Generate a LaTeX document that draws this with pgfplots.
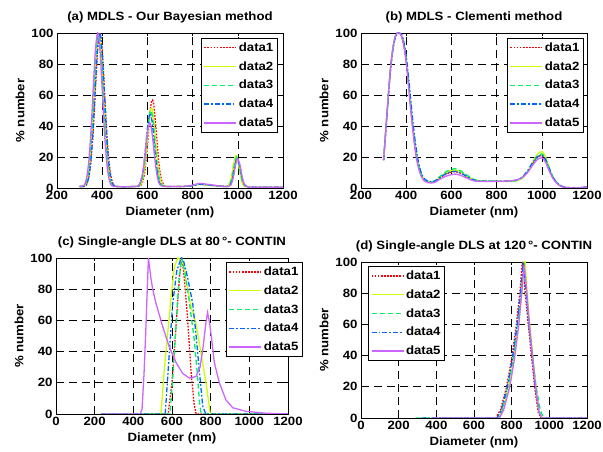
\documentclass[border=0pt]{standalone}
\usepackage{fontspec}
\setmainfont{Liberation Sans}[FakeStretch=1.1]
\usepackage{pgfplots}
\usepackage{pgfplotstable}
\pgfplotsset{compat=1.18}
\definecolor{cA}{RGB}{255,0,0}
\definecolor{cB}{RGB}{204,255,0}
\definecolor{cC}{RGB}{0,240,100}
\definecolor{cD}{RGB}{0,102,255}
\definecolor{cE}{RGB}{204,102,255}

\pgfplotstableread{
x    d1    d2    d3    d4    d5
300  1     1     1     1     1
320  1     1     1     1     1.7
330  2     3.5   3.7   2     5.9
340  6.5   10    11    6.6   16.3
350  17    25    27    17.8  36
360  36    49    52    38.5  63.5
370  63.5  77.5  80    66.4  89
380  89.3  97    98    91    100
390  100   97    96    100   89
400  89.3  77.5  75    87    63.5
410  63.5  49    46.5  60.7  36
420  36    25    23    33.7  16.3
430  17    10    9     15    5.9
440  6.5   3.5   3     5.5   1.7
450  2     1     1.2   1.6   1
460  1     1     1     1     1
500  0.8   0.8   0.8   0.8   0.8
550  1     1     1     1     1
560  1     1     1     1.2   1.5
570  1.5   2     3     4     4.3
580  4.5   6     7.5   9.9   10.5
590  12    15.5  19    22.8  22.6
600  27.5  31.6  35.4  38.4  36
610  46    47    48    47.7  42
615  53    51.3  50    47.3  40.4
620  56.6  51.4  48    43.5  36
625  56.2  48.2  43    37    29.7
630  51.6  41.6  35.4  29    22.6
640  34.6  24.6  19    14.3  10.5
650  17    10.7  7.5   5.2   3.6
660  7     4     2.7   1.4   1.5
670  2.5   1.3   1.2   1     1
680  1     1     1     1     1
700  1     1     1     1     1
760  1     1     1     1     1
800  1.5   1.5   1.5   1.5   1.8
830  2.5   2.3   2.4   2.5   3
860  2     2     2     2.1   2.5
900  1.5   1.5   1.5   1.5   1.7
940  1     1     1     1     1
950  1     1     1     1     1
960  1.5   2     1.5   1     1
970  4.5   6.1   4.5   3     2
980  10.7  14.5  11.3  8.3   6.8
990  17.8  20.8  18.8  16.2  14.7
995  19    20.5  20    18.6  17.8
1000 17.8  17.8  18.8  18.8  19
1010 10.7  9.2   11.3  13.1  14.7
1020 4.5   2.8   4.5   5.5   6.8
1030 1.5   1     1.5   2     2
1040 1     1     1     1     1
1060 0.5   0.5   0.5   0.5   0.5
1200 0.5   0.5   0.5   0.5   0.5
}\tabA

\pgfplotstableread{
x     d1    d2    d3    d4    d5
300   18    18    18    18    18
310   38    38    38    37    38
320   58    58    58    57    58
330   76    76    76    75    76
340   89    89    89    88    89
350   97    97    97    96    97
360   100   100   100   99.5  100
370   100   100   100   100   100
380   98    98    98.5  99    97.5
390   92    92    93    94    91
400   82    82    83    85    81
410   68    68    70    72    66
420   52    53    54    57    50
430   38    39    40    42    36
440   26    27    28    30    24
450   17    18    18.5  20    15.5
460   11    11.5  12    13    10
470   7     7.5   8     8.5   6.5
480   5     5.5   5.5   6     4.5
495   4     4.2   4.3   4.5   3.5
510   3.7   3.9   4     4     3.2
525   4     4.3   4.5   4.3   3.5
540   5.5   6     6.3   5.8   4.8
560   7.5   8.2   8.7   7.8   6.5
580   9.2   10.2  10.8  9.5   7.8
600   10.3  11.3  12    10.5  8.6
615   10.6  11.6  12.5  10.8  9
630   10.2  11.2  12    10.4  8.7
645   9.2   10    10.7  9.4   7.9
660   8     8.6   9.2   8.2   7
680   6.3   6.8   7.2   6.4   5.6
700   5.1   5.3   5.5   5.1   4.6
730   4.5   4.5   4.6   4.4   4.2
800   4.4   4.3   4.4   4.3   4.3
850   4.4   4.2   4.3   4.4   4.5
880   4.8   4.5   4.6   4.9   5
900   5.6   5.2   5.4   5.8   5.8
920   7.5   7.2   7.4   8     7.5
940   11    11.2  11.2  11.8  10.5
960   15.8  16.8  16.2  16.5  14.8
980   19.6  21.8  20.5  20.2  18.3
1000  21    23.5  22    21    19.5
1015  18.5  20.5  19.5  18.8  17
1030  13    14.5  14    13.5  12
1045  7.8   8.5   8.4   8.2   7.3
1060  4.3   4.5   4.6   4.6   4
1075  2     2     2.2   2.2   1.9
1090  0.9   0.9   1     1     0.8
1105  0.4   0.4   0.4   0.4   0.3
1150  0     0     0     0     0
1180  0.3   0.3   0.3   0.3   0.3
1200  0.8   0.8   0.8   0.8   0.8
}\tabB

\tikzset{
  sA/.style={draw=cA, color=cA, line width=1.3pt, dash pattern=on 1.7pt off 1.4pt},
  sB/.style={draw=cB, color=cB, line width=1.3pt, solid},
  sC/.style={draw=cC, color=cC, line width=1.3pt, dash pattern=on 5pt off 3pt},
  sD/.style={draw=cD, color=cD, line width=1.3pt, dash pattern=on 5pt off 2pt on 1.7pt off 2pt},
  sE/.style={draw=cE, color=cE, line width=1.3pt, solid},
}
\pgfplotsset{
  lA/.style={sA, legend image code/.code={\draw[sA] (0pt,0pt) -- (32pt,0pt);}},
  lB/.style={sB, legend image code/.code={\draw[sB] (0pt,0pt) -- (32pt,0pt);}},
  lC/.style={sC, legend image code/.code={\draw[sC] (0pt,0pt) -- (32pt,0pt);}},
  lD/.style={sD, legend image code/.code={\draw[sD] (0pt,0pt) -- (32pt,0pt);}},
  lE/.style={sE, legend image code/.code={\draw[sE] (0pt,0pt) -- (32pt,0pt);}},
  myax/.style={
    scale only axis,
    anchor=south west,
    ymin=0, ymax=100,
    ytick={0,20,40,60,80,100},
    xmax=1200,
    axis line style={black, line width=0.8pt},
    tick style={black, line width=0.6pt},
    major tick length=3pt,
    tick align=inside,
    xmajorgrids, ymajorgrids,
    major grid style={black, line width=0.6pt, dash pattern=on 8pt off 5pt},
    /pgf/number format/assume math mode=true,
    /pgf/number format/1000 sep={},
    xlabel={Diameter (nm)},
    ylabel={\% number},
    legend cell align=left,
    legend style={draw=black, line width=0.8pt, fill=white, inner sep=2.5pt,
      row sep=5pt, nodes={inner sep=1.8pt}},
    no markers,
  },
}

\begin{document}
\begin{tikzpicture}[font=\fontsize{12}{14}\selectfont\bfseries]
\path[use as bounding box] (0pt,0pt) rectangle (603pt,452pt);

% (a)
\begin{axis}[myax, at={(57pt,264pt)}, width=226pt, height=155pt,
  xmin=200, xtick={200,400,600,800,1000,1200},
  title={(a) MDLS - Our Bayesian method},
  legend style={at={(0.978,0.968)}, anchor=north east}]
\addplot[lA, smooth] table[x=x, y=d1] {\tabA};
\addplot[lB, smooth] table[x=x, y=d2] {\tabA};
\addplot[lC, smooth] table[x=x, y=d3] {\tabA};
\addplot[lD, smooth] table[x=x, y=d4] {\tabA};
\addplot[lE, smooth] table[x=x, y=d5] {\tabA};
\legend{data1,data2,data3,data4,data5}
\end{axis}

% (b)
\begin{axis}[myax, at={(361pt,264pt)}, width=226pt, height=155pt,
  xmin=200, xtick={200,400,600,800,1000,1200},
  title={(b) MDLS - Clementi method},
  legend style={at={(0.987,0.968)}, anchor=north east}]
\addplot[lA, smooth] table[x=x, y=d1] {\tabB};
\addplot[lB, smooth] table[x=x, y=d2] {\tabB};
\addplot[lC, smooth] table[x=x, y=d3] {\tabB};
\addplot[lD, smooth] table[x=x, y=d4] {\tabB};
\addplot[lE, smooth] table[x=x, y=d5] {\tabB};
\legend{data1,data2,data3,data4,data5}
\end{axis}

% (c)
\begin{axis}[myax, at={(56pt,38pt)}, width=232pt, height=156pt,
  xmin=0, xtick={0,200,400,600,800,1000,1200},
  title={(c) Single-angle DLS at 80\,°- CONTIN},
  legend style={at={(1.065,0.974)}, anchor=north east}]
\addplot[lA] coordinates {(235,0)(580,0)(600,20)(620,55)(640,90)(650,100)(660,92)(680,62)(700,25)(715,6)(725,0)(1200,0)};
\addplot[lB] coordinates {(235,0)(543,0)(560,28)(578,52)(595,75)(612,94)(630,100)(655,98)(672,86)(698,69)(724,58)(750,39)(776,20)(798,0)(1200,0)};
\addplot[lC] coordinates {(235,0)(590,0)(605,25)(620,55)(635,85)(650,100)(665,92)(685,76)(700,62)(715,48)(730,27)(742,8)(750,0)(1200,0)};
\addplot[lD] coordinates {(235,0)(565,0)(585,37)(603,70)(625,92)(648,100)(660,98)(680,88)(707,71)(725,50)(741,28)(759,5)(775,0)(1200,0)};
\addplot[lE] coordinates {(235,0)(435,0)(445,3)(455,25)(465,55)(472,80)(478,100)(490,88)(500,80)(517,71)(552,56)(586,43)(621,33)(655,26)(690,23)(724,24)(745,30)(760,42)(775,58)(784,65)(795,58)(805,48)(819,33)(845,20)(879,9)(914,4)(983,1.7)(1086,0.5)(1200,0)};
\legend{data1,data2,data3,data4,data5}
\end{axis}

% (d)
\begin{axis}[myax, at={(361pt,34pt)}, width=226pt, height=156pt,
  xmin=0, xtick={0,200,400,600,800,1000,1200},
  title={(d) Single-angle DLS at 120\,°- CONTIN},
  legend style={at={(0.031,0.974)}, anchor=north west}]
\addplot[lA] coordinates {(400,0)(715,0)(740,5)(773,20)(800,38)(825,60)(843,80)(857,100)(870,82)(888,60)(905,40)(922,20)(940,4)(955,0)(1200,0)};
\addplot[lB] coordinates {(400,0)(730,0)(752,5)(785,20)(812,38)(837,60)(855,80)(871,102)(880,84)(896,60)(912,40)(928,20)(945,4)(960,0)(1200,0)};
\addplot[lC] coordinates {(290,0)(730,0)(750,5)(780,20)(808,38)(832,60)(850,80)(865,100)(876,84)(893,60)(910,40)(930,20)(952,5)(970,0)(1200,0)};
\addplot[lD] coordinates {(320,0)(722,0)(745,5)(777,20)(804,38)(829,60)(847,80)(862,100)(874,83)(891,60)(908,40)(925,20)(945,4)(960,0)(1200,0)};
\addplot[lE] coordinates {(375,0)(735,0)(757,5)(790,20)(815,38)(838,60)(853,80)(866,98)(878,84)(894,60)(910,40)(927,20)(945,4)(960,0)(1200,0)};
\legend{data1,data2,data3,data4,data5}
\end{axis}
\end{tikzpicture}
\end{document}
